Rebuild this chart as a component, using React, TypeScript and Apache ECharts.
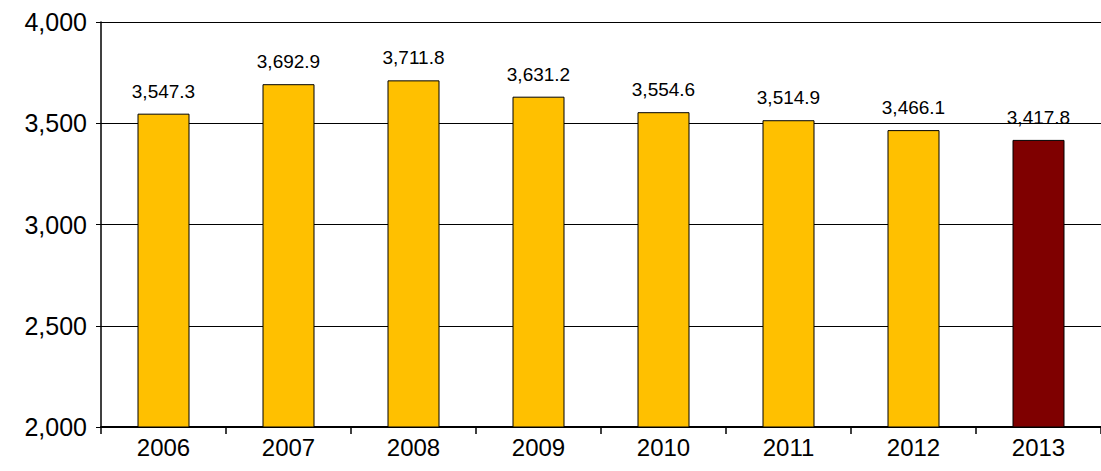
import { useEffect, useRef } from 'react';
import * as echarts from 'echarts';

const years = ['2006', '2007', '2008', '2009', '2010', '2011', '2012', '2013'];
const values = [3547.3, 3692.9, 3711.8, 3631.2, 3554.6, 3514.9, 3466.1, 3417.8];

const fmt = (v: number, d = 0) =>
  v.toLocaleString('en-US', { minimumFractionDigits: d, maximumFractionDigits: d });

export default function App() {
  const ref = useRef<HTMLDivElement>(null);

  useEffect(() => {
    if (!ref.current) return;
    const chart = echarts.init(ref.current, undefined, { renderer: 'svg' });

    chart.setOption({
      animation: false,
      grid: { left: 101, right: 0, top: 22, bottom: 44 },
      xAxis: {
        type: 'category',
        data: years,
        axisLine: { lineStyle: { color: '#000', width: 2 } },
        axisTick: { show: true, length: 7, lineStyle: { color: '#000', width: 1.5 } },
        axisLabel: { color: '#000', fontSize: 24, fontFamily: 'Liberation Sans, Arial', margin: 8 },
      },
      yAxis: {
        type: 'value',
        min: 2000,
        max: 4000,
        interval: 500,
        axisLine: { show: true, lineStyle: { color: '#000', width: 1.5 } },
        axisTick: { show: true, length: 5, lineStyle: { color: '#000' } },
        axisLabel: {
          color: '#000',
          fontSize: 25,
          fontFamily: 'Liberation Sans, Arial',
          margin: 14,
          formatter: (v: number) => fmt(v),
        },
        splitLine: { lineStyle: { color: '#000', width: 1 } },
      },
      series: [
        {
          type: 'bar',
          barWidth: 52,
          data: values.map((v, i) => ({
            value: v,
            itemStyle: { color: i === values.length - 1 ? '#7F0000' : '#FFC000' },
          })),
          itemStyle: { borderColor: '#000', borderWidth: 1 },
          label: {
            show: true,
            position: 'top',
            distance: 13,
            color: '#000',
            fontSize: 19,
            fontFamily: 'Liberation Sans, Arial',
            formatter: (p: any) => fmt(p.value, 1),
          },
        },
      ],
    });

    return () => chart.dispose();
  }, []);

  return (
    <div
      ref={ref}
      style={{ position: 'absolute', left: 0, top: 0, width: 1101, height: 471, background: '#fff' }}
    />
  );
}
